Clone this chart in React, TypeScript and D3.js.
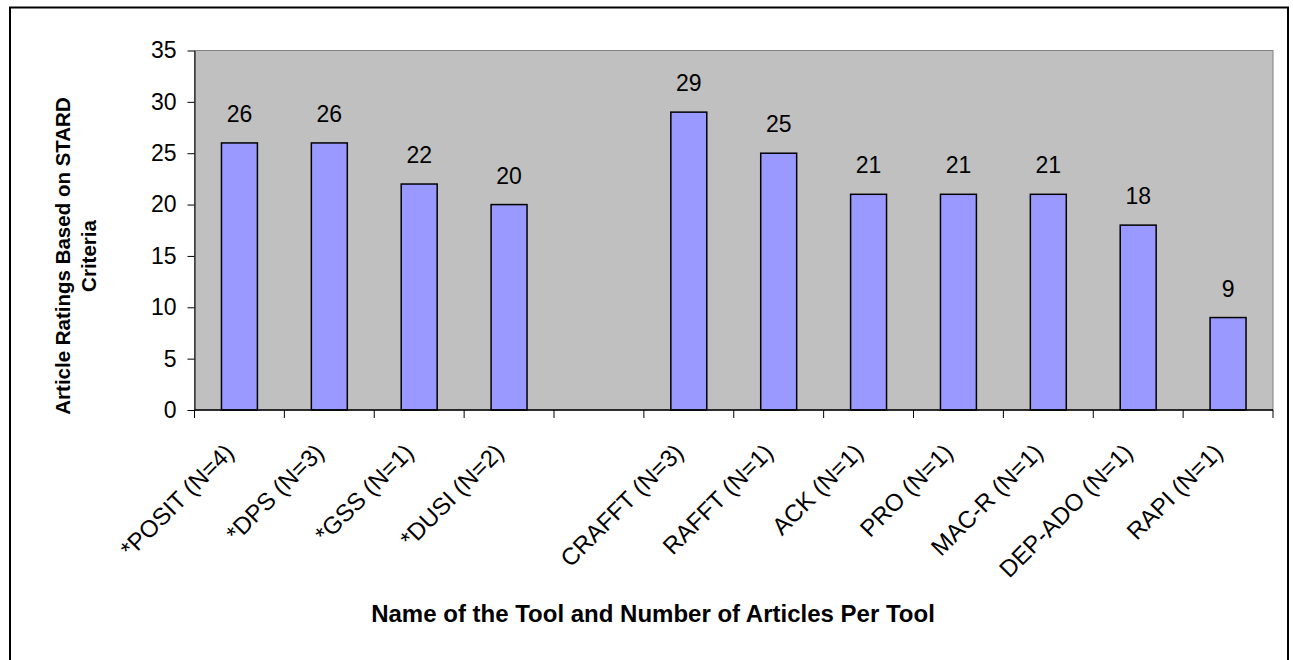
import { useEffect, useRef } from "react";
import * as d3 from "d3";

// tools and their STARD article ratings (the blank slot is a gap in the original chart)
const tools = [
  "*POSIT (N=4)",
  "*DPS (N=3)",
  "*GSS (N=1)",
  "*DUSI (N=2)",
  "",
  "CRAFFT (N=3)",
  "RAFFT (N=1)",
  "ACK (N=1)",
  "PRO (N=1)",
  "MAC-R (N=1)",
  "DEP-ADO (N=1)",
  "RAPI (N=1)",
];
const ratings: (number | null)[] = [26, 26, 22, 20, null, 29, 25, 21, 21, 21, 18, 9];
const yTicks = [0, 5, 10, 15, 20, 25, 30, 35];

const yTitleLines = ["Article Ratings Based on STARD", "Criteria"];
const xTitle = "Name of the Tool and Number of Articles Per Tool";

export default function App() {
  const svgElem = useRef<SVGSVGElement>(null);

  useEffect(() => {
    const width = 1293;
    const height = 660;
    const font = "Arial, 'Liberation Sans', sans-serif";
    const svg = d3
      .select(svgElem.current)
      .attr("width", width)
      .attr("height", height);
    svg.selectAll("*").remove();

    // outer chart border
    svg
      .append("rect")
      .attr("x", 10)
      .attr("y", 7.5)
      .attr("width", 1278)
      .attr("height", 700)
      .attr("fill", "#fff")
      .attr("stroke", "#000")
      .attr("stroke-width", 2);

    const left = 194.5;
    const right = 1273;
    const top = 50.5;
    const bottom = 410;

    const x = d3
      .scaleBand<number>()
      .domain(d3.range(tools.length))
      .range([left, right])
      .padding(0);
    const y = d3.scaleLinear().domain([0, 35]).range([bottom, top]);

    // plot area
    svg
      .append("rect")
      .attr("x", left)
      .attr("y", top)
      .attr("width", right - left)
      .attr("height", bottom - top)
      .attr("fill", "#c0c0c0")
      .attr("stroke", "#808080")
      .attr("stroke-width", 1);

    // bars
    const barW = x.bandwidth() * 0.4;
    const bars = tools
      .map((t, i) => ({ i, t, v: ratings[i] }))
      .filter((d) => d.v !== null) as { i: number; t: string; v: number }[];

    svg
      .append("g")
      .selectAll("rect")
      .data(bars)
      .join("rect")
      .attr("x", (d) => x(d.i)! + x.bandwidth() / 2 - barW / 2)
      .attr("y", (d) => y(d.v))
      .attr("width", barW)
      .attr("height", (d) => bottom - y(d.v))
      .attr("fill", "#9999ff")
      .attr("stroke", "#000")
      .attr("stroke-width", 1.5);

    // value labels
    svg
      .append("g")
      .selectAll("text")
      .data(bars)
      .join("text")
      .attr("x", (d) => x(d.i)! + x.bandwidth() / 2)
      .attr("y", (d) => y(d.v) - 21)
      .attr("text-anchor", "middle")
      .attr("font-family", font)
      .attr("font-size", 23)
      .attr("fill", "#000")
      .text((d) => d.v);

    // y axis
    const yAxis = svg
      .append("g")
      .attr("transform", `translate(${left},0)`)
      .call(
        d3
          .axisLeft(y)
          .tickValues(yTicks)
          .tickSize(7)
          .tickPadding(11)
          .tickSizeOuter(0)
      );
    yAxis.select(".domain").attr("stroke", "#000");
    yAxis
      .selectAll("text")
      .attr("font-family", font)
      .attr("font-size", 23)
      .attr("fill", "#000");

    // x axis: ticks at category boundaries
    const boundaries = d3.range(tools.length + 1).map((i) => left + i * x.step());
    svg
      .append("line")
      .attr("x1", left)
      .attr("x2", right)
      .attr("y1", bottom)
      .attr("y2", bottom)
      .attr("stroke", "#000")
      .attr("stroke-width", 1.5);
    svg
      .append("g")
      .selectAll("line")
      .data(boundaries)
      .join("line")
      .attr("x1", (d) => d)
      .attr("x2", (d) => d)
      .attr("y1", bottom)
      .attr("y2", bottom + 8)
      .attr("stroke", "#000");

    // category labels, rotated
    svg
      .append("g")
      .selectAll("text")
      .data(tools.map((t, i) => ({ t, i })))
      .join("text")
      .attr(
        "transform",
        (d) => `translate(${x(d.i)! + x.bandwidth() / 2 - 4},${bottom + 44}) rotate(-45)`
      )
      .attr("text-anchor", "end")
      .attr("font-family", font)
      .attr("font-size", 24)
      .attr("fill", "#000")
      .text((d) => d.t);

    // axis titles
    svg
      .append("text")
      .attr("x", 653)
      .attr("y", 622)
      .attr("text-anchor", "middle")
      .attr("font-family", font)
      .attr("font-size", 24)
      .attr("font-weight", "bold")
      .text(xTitle);

    const yTitle = svg
      .append("text")
      .attr("transform", "translate(70,256) rotate(-90)")
      .attr("text-anchor", "middle")
      .attr("font-family", font)
      .attr("font-size", 20.5)
      .attr("font-weight", "bold");
    yTitleLines.forEach((line, i) => {
      yTitle
        .append("tspan")
        .attr("x", 0)
        .attr("dy", i === 0 ? 0 : 26)
        .text(line);
    });
  }, []);

  return (
    <div style={{ position: "absolute", left: 0, top: 0 }}>
      <svg ref={svgElem} style={{ display: "block" }}></svg>
    </div>
  );
}
